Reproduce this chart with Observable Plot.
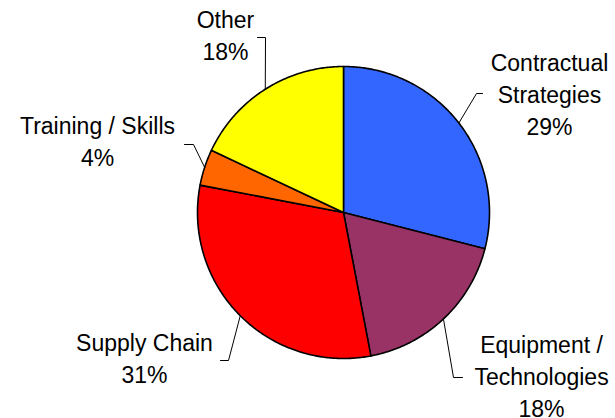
<!DOCTYPE html>
<html>
<head>
<meta charset="utf-8">
<script src="https://cdn.jsdelivr.net/npm/d3@7"></script>
<script src="https://cdn.jsdelivr.net/npm/@observablehq/plot@0.6"></script>
<style>
  html, body { margin: 0; padding: 0; background: #fff; }
</style>
</head>
<body>
<div id="chart"></div>
<script>
// ---- data ----
const categories = ["Contractual Strategies", "Equipment / Technologies", "Supply Chain", "Training / Skills", "Other"];
const labelLines = [["Contractual", "Strategies"], ["Equipment /", "Technologies"], ["Supply Chain"], ["Training / Skills"], ["Other"]];
const shares = [29, 18, 31, 4, 18];
const colors = ["#3366FF", "#993366", "#FF0000", "#FF6600", "#FFFF00"];

// ---- layout (pixels) ----
const W = 615, H = 418;
const cx = 343, cy = 212, R = 146;
const fs = 23, lh = 32;
// label layout: text centre x, first baseline, elbow point, leader end
const labelLayout = [
  {tx: 549, ty: 70,  ex: 476, ey: 93,  hx: 482},
  {tx: 541, ty: 352, ex: 453, ey: 377, hx: 462},
  {tx: 144, ty: 350, ex: 228, ey: 360, hx: 220},
  {tx: 97,  ty: 133, ex: 193, ey: 144, hx: 184},
  {tx: 225, ty: 27,  ex: 265, ey: 37,  hx: 257}
];

const data = categories.map((c, i) => ({name: c, value: shares[i], color: colors[i], lines: labelLines[i]}));
const pie = d3.pie().value(d => d.value).sort(null)(data);

const pt = a => [cx + R * Math.sin(a), cy - R * Math.cos(a)];

// slice polygons
const slicePts = [];
pie.forEach(s => {
  slicePts.push({name: s.data.name, color: s.data.color, x: cx, y: cy});
  const n = Math.max(4, Math.ceil((s.endAngle - s.startAngle) / 0.01));
  for (let k = 0; k <= n; k++) {
    const a = s.startAngle + (s.endAngle - s.startAngle) * k / n;
    const [x, y] = pt(a);
    slicePts.push({name: s.data.name, color: s.data.color, x, y});
  }
});

// leader lines
const leaderPts = [];
const texts = [];
pie.forEach((s, i) => {
  const L = labelLayout[i];
  const mid = (s.startAngle + s.endAngle) / 2;
  const [x0, y0] = pt(mid);
  leaderPts.push({name: s.data.name, x: x0, y: y0});
  leaderPts.push({name: s.data.name, x: L.ex, y: L.ey});
  leaderPts.push({name: s.data.name, x: L.hx, y: L.ey});
  const lines = [...s.data.lines, s.data.value + "%"];
  lines.forEach((t, j) => texts.push({x: L.tx, y: L.ty + j * lh, t}));
});

const chart = Plot.plot({
  width: W,
  height: H,
  margin: 0,
  x: {domain: [0, W], range: [0, W], axis: null},
  y: {domain: [0, H], range: [0, H], axis: null},
  style: {background: "#fff", fontFamily: "'Liberation Sans', Arial, sans-serif"},
  marks: [
    Plot.line(slicePts, {x: "x", y: "y", z: "name", fill: "color", stroke: "#000", strokeWidth: 1.6, curve: "linear-closed", strokeLinejoin: "round"}),
    Plot.line(leaderPts, {x: "x", y: "y", z: "name", stroke: "#000", strokeWidth: 1}),
    Plot.text(texts, {x: "x", y: "y", text: "t", fontSize: fs, fill: "#000", textAnchor: "middle", lineAnchor: "bottom", dy: 0})
  ]
});
document.getElementById("chart").appendChild(chart);
</script>
</body>
</html>
